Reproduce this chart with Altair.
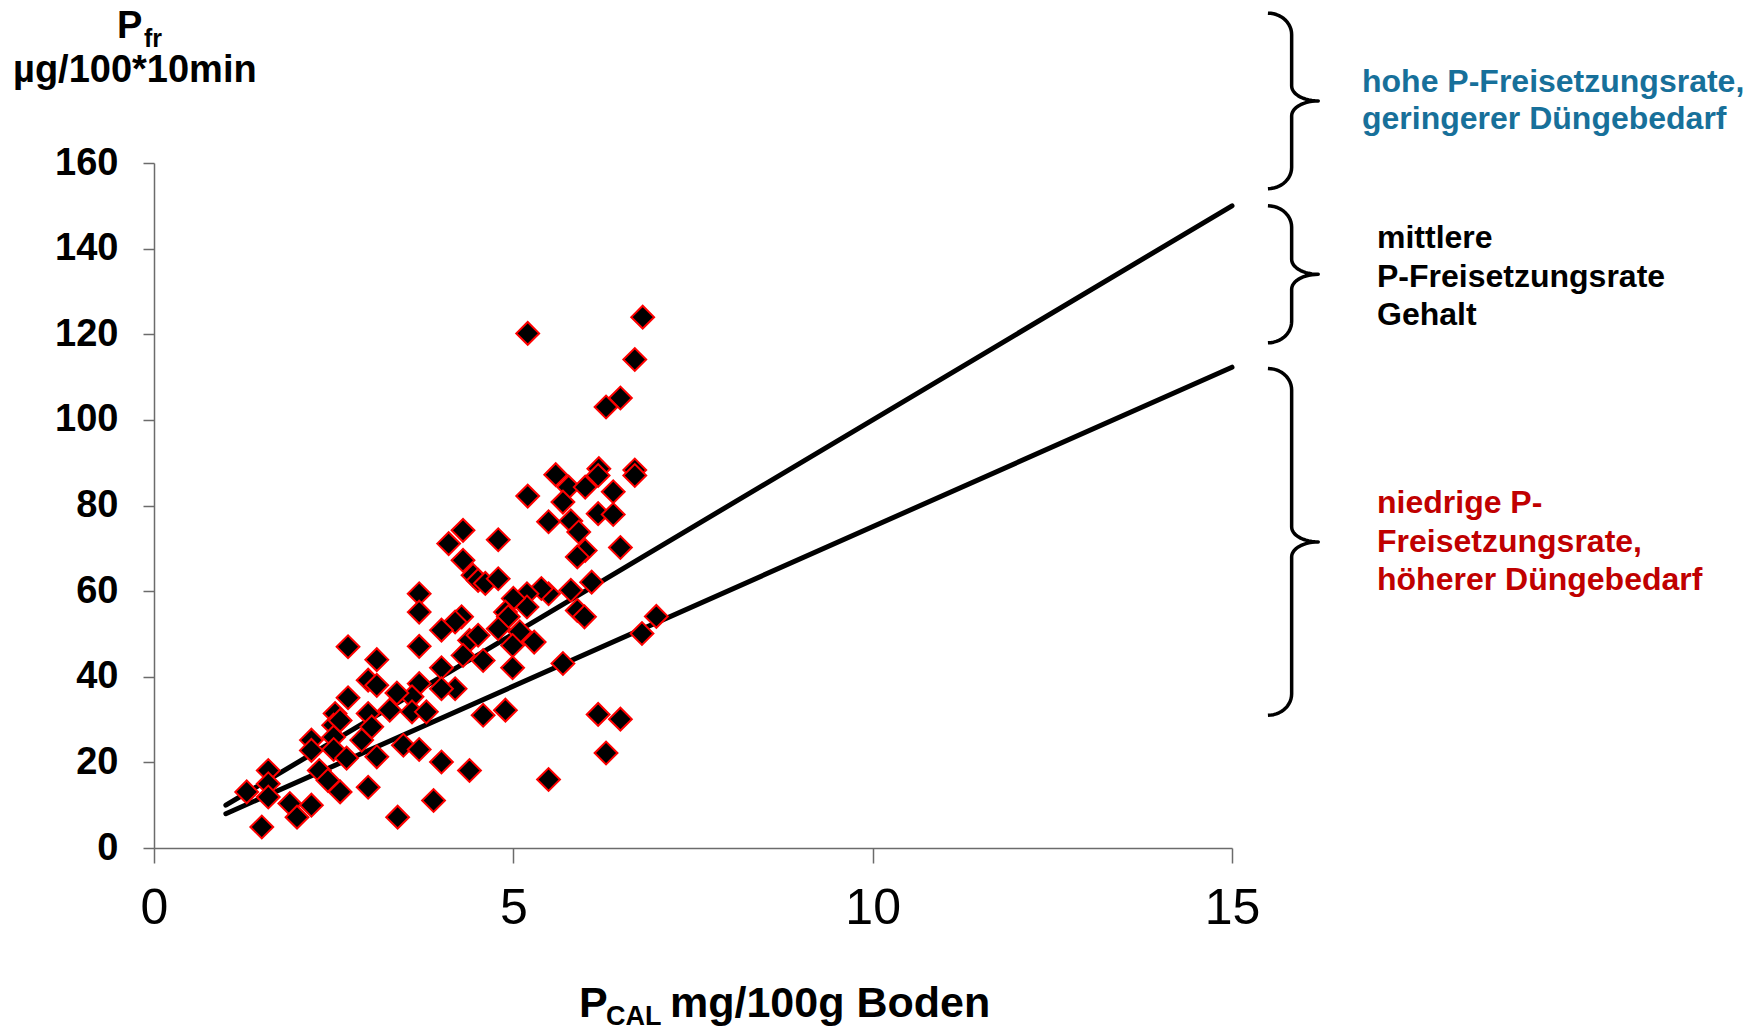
import altair as alt
import pandas as pd
import numpy as np

# ---------------- data ----------------
p_cal = [6.80, 5.20, 6.69, 6.49, 6.29, 5.59, 6.19, 6.18, 6.69, 6.69,
         5.77, 6.00, 6.39, 5.20, 5.69, 5.49, 5.80, 5.91, 6.18, 6.39,
         6.49, 6.00, 5.89, 4.30, 4.10, 4.30, 4.79, 4.44, 4.51, 4.61,
         4.79, 3.69, 3.69, 6.09, 5.80, 5.49, 5.39, 5.19, 5.19, 5.00,
         4.89, 4.93, 5.89, 5.99, 4.79, 5.09, 5.29, 4.99, 4.28, 4.19,
         4.00, 4.39, 4.51, 4.30, 4.58, 4.99, 2.70, 3.10, 4.00, 3.69,
         4.19, 4.00, 3.69, 3.59, 3.38, 3.28, 3.59, 3.79, 2.98, 3.10,
         2.70, 2.98, 3.03, 2.52, 2.50, 2.59, 2.19, 2.19, 2.50, 2.50,
         2.68, 2.89, 3.10, 2.30, 2.42, 2.59, 2.98, 3.47, 3.69, 4.00,
         4.39, 4.58, 4.89, 5.69, 6.79, 6.99, 6.18, 6.49, 6.29, 5.49,
         3.89, 3.39, 1.59, 1.59, 1.59, 1.29, 1.89, 1.99, 2.19, 1.50]
p_fr = [124.0, 120.2, 114.1, 105.1, 103.0, 87.2, 88.6, 87.0, 88.3, 87.0,
        84.3, 84.3, 83.2, 82.2, 80.8, 76.2, 76.4, 73.8, 78.1, 77.9,
        70.2, 69.5, 68.0, 74.2, 71.1, 67.2, 72.0, 63.7, 62.5, 61.8,
        62.9, 59.4, 55.1, 62.1, 60.2, 59.4, 60.6, 59.4, 56.3, 58.3,
        55.1, 54.0, 55.5, 54.0, 51.2, 50.5, 48.1, 47.3, 54.0, 52.8,
        50.9, 48.5, 49.7, 45.0, 43.8, 42.1, 47.0, 44.0, 42.1, 47.1,
        37.2, 37.2, 38.4, 35.3, 36.2, 32.2, 31.8, 31.8, 39.2, 38.0,
        35.1, 31.4, 28.3, 31.4, 28.7, 29.8, 25.2, 22.8, 25.9, 23.0,
        21.0, 25.2, 21.3, 18.1, 15.8, 13.1, 14.2, 24.0, 23.0, 20.1,
        18.1, 31.0, 32.2, 43.1, 50.1, 54.1, 31.2, 30.1, 22.2, 16.0,
        11.1, 7.2, 18.1, 15.0, 11.9, 13.1, 10.4, 7.2, 10.0, 4.9]

line_x = [1, 15]
upper_line = [10.0, 150.0]
lower_line = [8.0, 112.3]

# value ranges covered by the three braces (bottom, top)
brace_ranges = [(154, 195), (118, 150), (31, 112)]

x_ticks = [0, 5, 10, 15]
y_ticks = [0, 20, 40, 60, 80, 100, 120, 140, 160]

FONT = "Liberation Sans, Arial, sans-serif"

# ---------------- tables ----------------
pts = pd.DataFrame({"x": p_cal, "y": p_fr})
lines = pd.DataFrame({
    "x": line_x + line_x,
    "y": upper_line + lower_line,
    "g": ["upper"] * 2 + ["lower"] * 2,
})


def brace_points(y_lo, y_hi, x_end=15.5, x_mid=15.83, x_tip=16.2,
                 r_end=5.0, r_tip=3.5, n=14):
    yc = (y_lo + y_hi) / 2.0
    t = np.linspace(0, np.pi / 2, n)
    out = []
    for a in t:
        out.append((x_end + (x_mid - x_end) * np.sin(a), y_hi - r_end + r_end * np.cos(a)))
    for a in t:
        out.append((x_tip - (x_tip - x_mid) * np.cos(a), yc + r_tip - r_tip * np.sin(a)))
    for a in t[::-1]:
        out.append((x_tip - (x_tip - x_mid) * np.cos(a), yc - r_tip + r_tip * np.sin(a)))
    for a in t[::-1]:
        out.append((x_end + (x_mid - x_end) * np.sin(a), y_lo + r_end - r_end * np.cos(a)))
    return out


rows = []
for b, (lo, hi) in enumerate(brace_ranges):
    for i, (bx, by) in enumerate(brace_points(lo, hi)):
        rows.append({"x": bx, "y": by, "b": b, "i": i})
braces = pd.DataFrame(rows)

# ---------------- scales / axes ----------------
xscale = alt.Scale(domain=[0, 15], nice=False, zero=False)
yscale = alt.Scale(domain=[0, 160], nice=False, zero=False)
xaxis = alt.Axis(values=x_ticks, title=None, grid=False, labelFont=FONT,
                 labelFontSize=50, labelFontWeight="normal", labelColor="black",
                 tickSize=15, tickWidth=1.5, tickColor="#6b6b6b",
                 domainColor="#6b6b6b", domainWidth=1.5, labelPadding=20,
                 labelFlush=False, labelOverlap=False)
yaxis = alt.Axis(values=y_ticks, title=None, grid=False, labelFont=FONT,
                 labelFontSize=38, labelFontWeight="bold", labelColor="black",
                 tickSize=11, tickWidth=1.5, tickColor="#6b6b6b",
                 domainColor="#6b6b6b", domainWidth=1.5, labelPadding=25,
                 labelFlush=False, labelOverlap=False)

X = alt.X("x:Q", scale=xscale, axis=xaxis)
Y = alt.Y("y:Q", scale=yscale, axis=yaxis)

line_layer = alt.Chart(lines).mark_line(
    color="black", strokeWidth=5, strokeCap="round", clip=False
).encode(x=X, y=Y, detail="g:N")

brace_layer = alt.Chart(braces).mark_line(
    color="black", strokeWidth=3.5, clip=False, strokeJoin="round"
).encode(x=X, y=Y, detail="b:N", order="i:Q")

point_layer = alt.Chart(pts).mark_point(
    shape="diamond", filled=True, fill="black", stroke="#ff0000",
    strokeWidth=2, size=520, opacity=1, fillOpacity=1, clip=False
).encode(x=X, y=Y)


def label(txt, px, py, size, color="black", weight="bold"):
    return alt.Chart(alt.Data(values=[{}])).mark_text(
        font=FONT, fontSize=size, fontWeight=weight, color=color,
        align="left", baseline="alphabetic"
    ).encode(x=alt.value(px), y=alt.value(py), text=alt.value(txt))


BLUE = "#17709a"
RED = "#c00000"
texts = [
    # y-axis title
    label("P", -37, -125, 38),
    label("fr", -10, -116, 25),
    label("µg/100*10min", -141, -81, 38),
    # x-axis title
    label("P", 425, 854, 43),
    label("CAL", 452, 862, 27),
    label("mg/100g Boden", 516, 854, 43),
    # annotations
    label("hohe P-Freisetzungsrate,", 1208, -71, 32, BLUE),
    label("geringerer Düngebedarf", 1208, -34, 32, BLUE),
    label("mittlere", 1223, 85, 32),
    label("P-Freisetzungsrate", 1223, 124, 32),
    label("Gehalt", 1223, 162, 32),
    label("niedrige P-", 1223, 350, 32, RED),
    label("Freisetzungsrate,", 1223, 389, 32, RED),
    label("höherer Düngebedarf", 1223, 427, 32, RED),
]

chart = alt.layer(line_layer, brace_layer, point_layer, *texts).properties(
    width=1078, height=685,
    autosize=alt.AutoSizeParams(type="none"),
    padding={"left": 146, "top": 155, "right": 516, "bottom": 180},
    background="white",
).configure_view(stroke=None)

chart.save("out.html", embed_options={"renderer": "svg", "actions": False})
